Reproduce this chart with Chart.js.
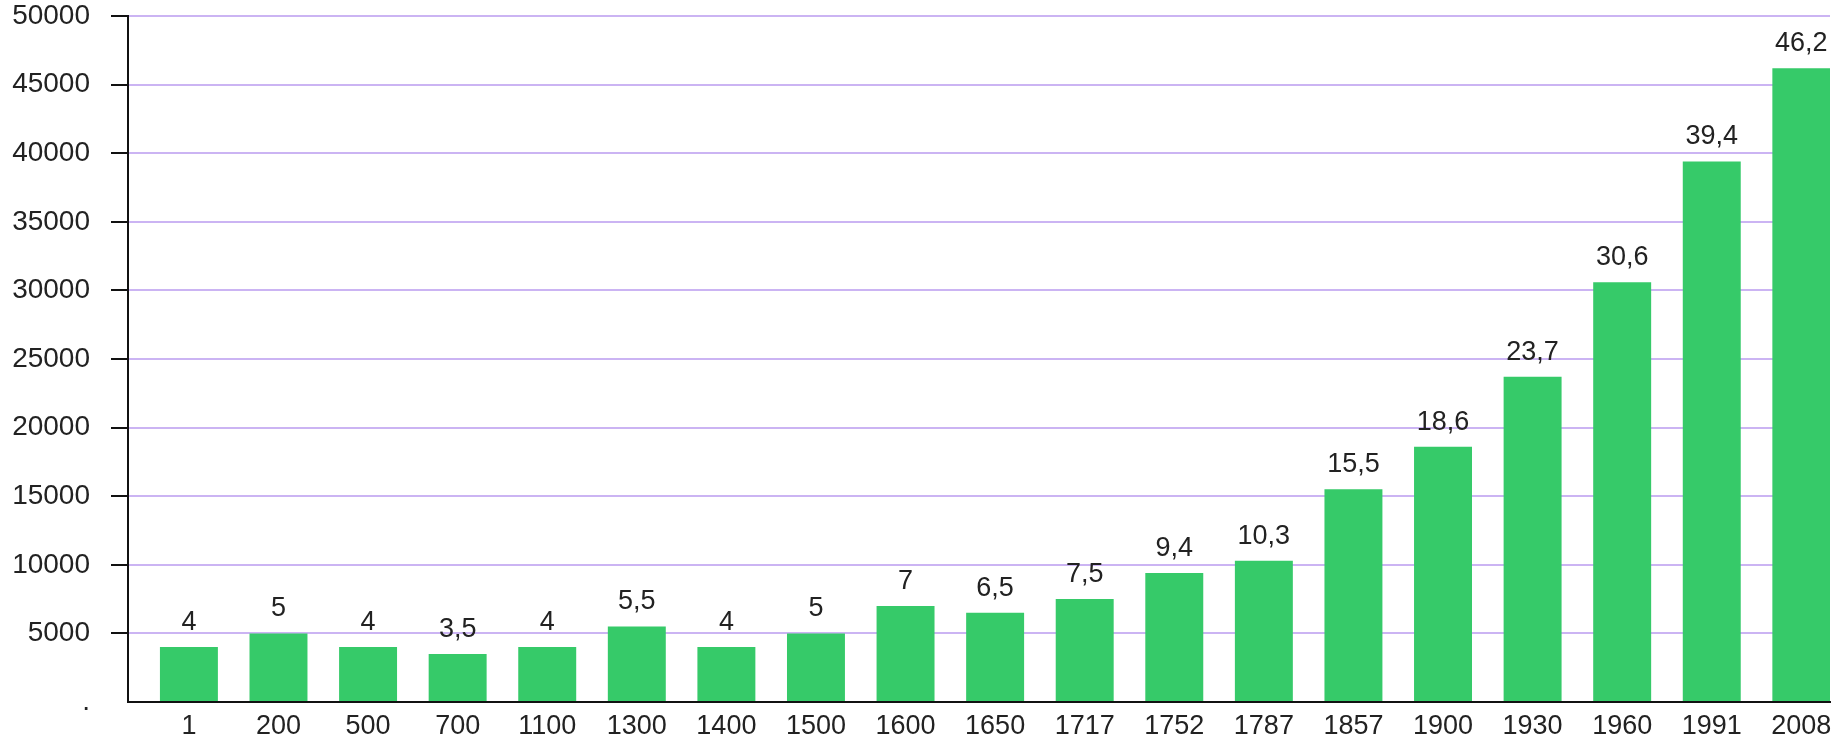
<!DOCTYPE html>
<html>
<head>
<meta charset="utf-8">
<script src="https://cdn.jsdelivr.net/npm/chart.js@4.4.1/dist/chart.umd.min.js"></script>
<style>
  html, body { margin: 0; padding: 0; background: #fff; }
  #wrap { width: 1835px; height: 744px; }
</style>
</head>
<body>
<div id="wrap"><canvas id="myChart"></canvas></div>
<script>
var years = ["1", "200", "500", "700", "1100", "1300", "1400", "1500", "1600", "1650",
    "1717", "1752", "1787", "1857", "1900", "1930", "1960", "1991", "2008"];
var values = [4000, 5000, 4000, 3500, 4000, 5500, 4000, 5000, 7000, 6500,
    7500, 9400, 10300, 15500, 18600, 23700, 30600, 39400, 46200];
var valueLabels = ["4", "5", "4", "3,5", "4", "5,5", "4", "5", "7", "6,5",
    "7,5", "9,4", "10,3", "15,5", "18,6", "23,7", "30,6", "39,4", "46,2"];

var font = { family: "'Liberation Sans', Arial, sans-serif", size: 27 };
var yFont = { family: "'Liberation Sans', Arial, sans-serif", size: 28 };

// draws the number over each bar
var barLabels = {
    id: "barLabels",
    afterDatasetsDraw: function (chart) {
        var c = chart.ctx;
        var meta = chart.getDatasetMeta(0);
        c.save();
        c.font = font.size + "px " + font.family;
        c.fillStyle = "#222";
        c.textAlign = "center";
        c.textBaseline = "bottom";
        meta.data.forEach(function (bar, i) {
            c.fillText(valueLabels[i], bar.x, bar.y - 11);
        });
        c.restore();
    }
};

var ctx = document.getElementById("myChart");
var myChart = new Chart(ctx, {
    type: "bar",
    data: {
        datasets: [{
            data: values.map(function (v, i) { return { x: i, y: v }; }),
            backgroundColor: "#36ca69",
            borderWidth: 0,
            categoryPercentage: 1,
            barPercentage: 0.647
        }]
    },
    options: {
        responsive: true,
        maintainAspectRatio: false,
        animation: false,
        layout: { padding: { top: 16, right: 5, left: 0, bottom: 0 } },
        plugins: { legend: { display: false }, tooltip: { enabled: false } },
        scales: {
            x: {
                type: "linear",
                offset: false,
                min: -0.68,
                max: 18.32,
                grid: { display: false, drawTicks: false },
                border: { display: true, color: "#111", width: 2 },
                afterBuildTicks: function (s) {
                    s.ticks = years.map(function (y, i) { return { value: i }; });
                },
                ticks: {
                    autoSkip: false,
                    maxRotation: 0,
                    padding: 8,
                    color: "#222",
                    font: font,
                    callback: function (v) { return years[v] !== undefined ? years[v] : ""; }
                },
                afterFit: function (s) { s.height = 42; s.paddingLeft = 0; s.paddingRight = 0; }
            },
            y: {
                min: 0,
                max: 50000,
                grid: {
                    color: "#cbb4f3",
                    lineWidth: 2,
                    tickLength: 17,
                    tickWidth: 2,
                    tickColor: function (c) { return c.tick && c.tick.value === 0 ? "rgba(0,0,0,0)" : "#111"; }
                },
                border: { display: true, color: "#111", width: 2 },
                ticks: {
                    stepSize: 5000,
                    padding: 21,
                    color: "#222",
                    font: yFont,
                    callback: function (v) { return v === 0 ? "." : v; }
                },
                afterFit: function (s) { s.width = 128; s.paddingTop = 0; s.paddingBottom = 0; }
            }
        }
    },
    plugins: [barLabels]
});
</script>
</body>
</html>
